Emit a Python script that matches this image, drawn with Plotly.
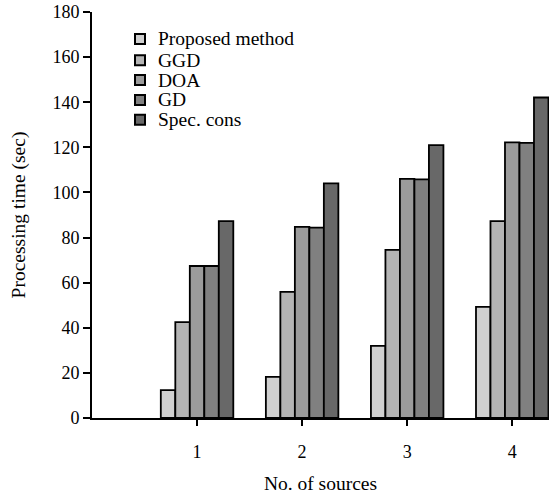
import plotly.graph_objects as go

sources = [1, 2, 3, 4]
series_names = ["Proposed method", "GGD", "DOA", "GD", "Spec. cons"]
proposed = [12.4, 18.2, 32.0, 49.3]
ggd = [42.5, 55.9, 74.5, 87.3]
doa = [67.4, 84.7, 106.0, 122.2]
gd = [67.4, 84.4, 105.8, 122.0]
spec = [87.3, 104.0, 121.0, 142.1]
colors = ["#d0d0d0", "#b4b4b4", "#9b9b9b", "#808080", "#686868"]
y_ticks = [0, 20, 40, 60, 80, 100, 120, 140, 160, 180]

W, H = 549, 494
ML, MR, MT, MB = 92, 0, 12, 76
PW, PH = W - ML - MR, H - MT - MB

series = [proposed, ggd, doa, gd, spec]
fig = go.Figure()
for name, vals, col in zip(series_names, series, colors):
    fig.add_trace(go.Bar(x=sources, y=vals, name=name, showlegend=False,
                         marker=dict(color=col, line=dict(color="black", width=1.8))))

font = "Liberation Serif, Times New Roman, serif"

# legend drawn as compact rows (square swatch + label) in paper coordinates
def px_to_paper_x(px):
    return (px - ML) / PW

def px_to_paper_y(py):
    return 1 - (py - MT) / PH

shapes = []
annotations = []
for i, (name, col) in enumerate(zip(series_names, colors)):
    cy = 39 + 19.8 * i + (1.5 if i > 0 else 0)
    shapes.append(dict(type="rect", xref="paper", yref="paper",
                       x0=px_to_paper_x(135), x1=px_to_paper_x(145),
                       y0=px_to_paper_y(cy + 5), y1=px_to_paper_y(cy - 5),
                       fillcolor=col, line=dict(color="black", width=2)))
    annotations.append(dict(xref="paper", yref="paper", x=px_to_paper_x(156),
                            y=px_to_paper_y(cy), text=name, showarrow=False,
                            xanchor="left", yanchor="middle",
                            font=dict(family=font, size=19.5, color="black")))

fig.update_layout(
    width=W, height=H,
    margin=dict(l=ML, r=MR, t=MT, b=MB),
    barmode="group", bargap=0.31, bargroupgap=0,
    plot_bgcolor="white", paper_bgcolor="white",
    font=dict(family=font, size=18, color="black"),
    showlegend=False,
    shapes=shapes,
    annotations=annotations,
    xaxis=dict(range=[0, 4.35], tickvals=sources, ticktext=[str(s) for s in sources],
               showline=True, linecolor="black", linewidth=2,
               ticks="outside", ticklen=6, tickwidth=1.8, tickcolor="black",
               ticklabelstandoff=10,
               showgrid=False, zeroline=False,
               title=dict(text="No. of sources", standoff=18,
                          font=dict(family=font, size=19.5))),
    yaxis=dict(range=[0, 180], tickvals=y_ticks,
               showline=True, linecolor="black", linewidth=2,
               ticks="outside", ticklen=7, tickwidth=1.8, tickcolor="black",
               showgrid=False, zeroline=False,
               title=dict(text="Processing time (sec)", standoff=22,
                          font=dict(family=font, size=19.5))),
)
fig.write_html("out.html")
